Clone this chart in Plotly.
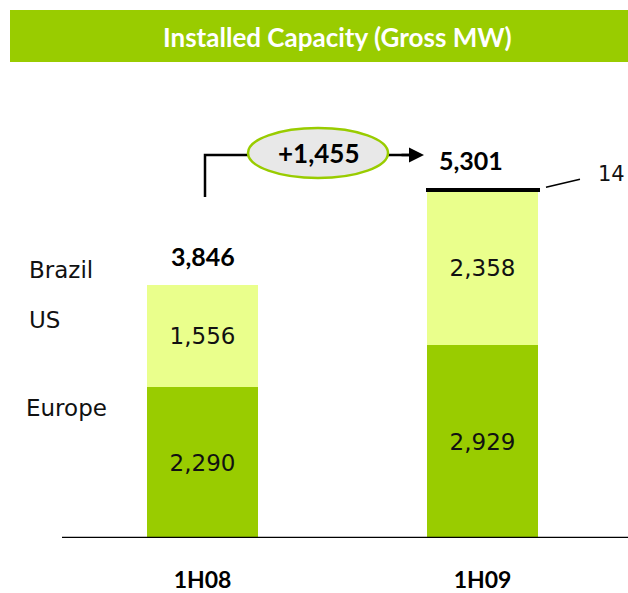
import plotly.graph_objects as go

periods = ["1H08", "1H09"]
europe = [2290, 2929]
us = [1556, 2358]
brazil = [0, 14]
series_names = ["Europe", "US", "Brazil"]
growth_label = "+1,455"
title_text = "Installed Capacity (Gross MW)"

W, H = 628, 593
BOT = 55
PLOT_H = H - BOT
PX_PER_MW = 0.0658
YMAX = PLOT_H / PX_PER_MW
X_UNIT = 280.0
X0PX = 202.5

def xd(px):
    return (px - X0PX) / X_UNIT

def yd(py):
    return (PLOT_H - py) / PX_PER_MW

xpos = [0, 1]
totals = [e + u + b for e, u, b in zip(europe, us, brazil)]
fmt = lambda v: f"{v:,}"

GREEN = "#99CC00"
LIGHT = "#EAFF8C"
REG = "DejaVu Sans"
BOLD = "Lato"
num_font = dict(family=REG, size=23, color="#111111")

fig = go.Figure()
bw = 111 / X_UNIT
fig.add_trace(go.Bar(x=xpos, y=europe, name="Europe", marker=dict(color=GREEN, line=dict(width=0)),
                     width=bw, text=[fmt(v) for v in europe], textposition="inside",
                     insidetextanchor="middle", textfont=num_font, textangle=0))
fig.add_trace(go.Bar(x=xpos, y=us, name="US", marker=dict(color=LIGHT, line=dict(width=0)),
                     width=bw, text=[fmt(v) for v in us], textposition="inside",
                     insidetextanchor="middle", textfont=num_font, textangle=0))
fig.add_trace(go.Bar(x=xpos, y=brazil, name="Brazil",
                     marker=dict(color="black", line=dict(color="black", width=[0 if v == 0 else 3 for v in brazil])),
                     width=bw, textposition="none"))

# totals
for i, t in enumerate(totals):
    fig.add_annotation(x=xpos[i], y=t, text=f"<b>{fmt(t)}</b>", showarrow=False,
                       yanchor="middle", yshift=29, xshift=(-12 if i == 1 else 0),
                       font=dict(family=BOLD, size=25, color="#000"))

# Brazil label with leader
fig.add_shape(type="line", x0=xd(546), x1=xd(580), y0=totals[1] + 2 / PX_PER_MW, y1=totals[1] + 10 / PX_PER_MW,
              line=dict(color="black", width=1.5))
fig.add_annotation(x=xd(611), y=totals[1] + 15 / PX_PER_MW, text=fmt(brazil[1]), showarrow=False,
                   font=dict(family=REG, size=21, color="#111"))

# growth arrow
fig.add_shape(type="path",
              path=f"M {xd(205)},{yd(197)} L {xd(205)},{yd(155)} L {xd(410)},{yd(155)}",
              line=dict(color="black", width=2.5))
fig.add_annotation(x=xd(424), y=yd(155), ax=xd(400), ay=yd(155), axref="x", ayref="y",
                   xref="x", yref="y", text="", showarrow=True, arrowhead=2, arrowsize=1.2,
                   arrowwidth=2.5, arrowcolor="black")
fig.add_shape(type="circle", x0=xd(248), x1=xd(388), y0=yd(178), y1=yd(128),
              fillcolor="#E8E8E8", line=dict(color=GREEN, width=2.5), layer="above")
fig.add_annotation(x=xd(318), y=yd(153), text=f"<b>{growth_label}</b>", showarrow=False,
                   font=dict(family=BOLD, size=26, color="#000"))

# series labels on left
label_pos = {"Brazil": (27, 270), "US": (27, 320), "Europe": (24, 408)}
for n in series_names:
    px, py = label_pos[n]
    fig.add_annotation(x=px / W, xref="paper", y=yd(py), text=n, showarrow=False,
                       xanchor="left", yanchor="middle",
                       font=dict(family=REG, size=23, color="#111"))

# baseline
fig.add_shape(type="line", xref="paper", x0=62 / W, x1=1, yref="y", y0=0, y1=0,
              line=dict(color="black", width=2.5))

# title bar
fig.add_shape(type="rect", xref="paper", yref="paper", x0=10 / W, x1=1,
              y0=(PLOT_H - 62) / PLOT_H, y1=(PLOT_H - 10) / PLOT_H,
              fillcolor=GREEN, line=dict(width=0))
fig.add_annotation(xref="paper", yref="paper", x=337 / W, y=(PLOT_H - 37) / PLOT_H,
                   xanchor="center", yanchor="middle",
                   text=f"<b>{title_text}</b>", showarrow=False,
                   font=dict(family=BOLD, size=26, color="white"))

fig.update_layout(
    width=W, height=H, barmode="stack", showlegend=False,
    margin=dict(l=0, r=0, t=0, b=BOT),
    plot_bgcolor="white", paper_bgcolor="white",
    xaxis=dict(range=[xd(0), xd(W)], tickvals=xpos, ticktext=[f"<b>{p}</b>" for p in periods],
               showgrid=False, zeroline=False, showline=False, ticks="",
               tickfont=dict(family=BOLD, size=23, color="#000"), ticklabelstandoff=26),
    yaxis=dict(range=[0, YMAX], visible=False),
    uniformtext=dict(mode=False),
)

fig.write_html("out.html", config={"displayModeBar": False},
               post_script="document.body.style.margin='0';document.body.style.overflow='hidden';")
